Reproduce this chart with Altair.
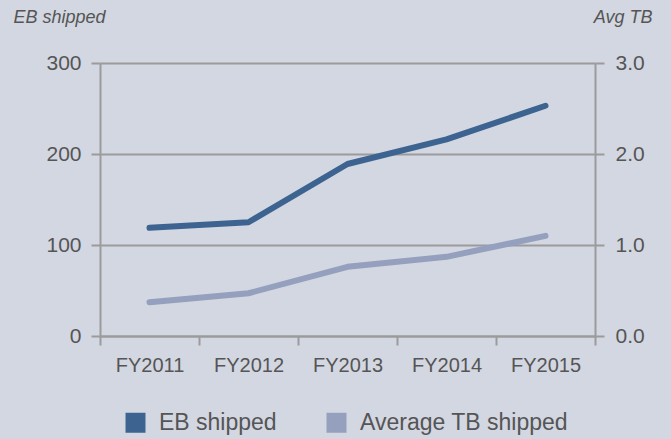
import altair as alt
import pandas as pd

years = ["FY2011", "FY2012", "FY2013", "FY2014", "FY2015"]
eb_shipped = [119, 125, 189, 216, 253]
avg_tb = [0.37, 0.47, 0.76, 0.87, 1.10]
series_names = ["EB shipped", "Average TB shipped"]
series_colors = ["#3d6490", "#94a0bd"]

df = pd.DataFrame({"year": years, "eb": eb_shipped, "tb": avg_tb})

FONT = "Liberation Sans"
TXT = "#555555"
GRAY = "#9b9b9b"
BG = "#d3d7e2"

# page background to match the chart (fills the 8px body margin)
try:
    from altair.utils import html as _h

    class _BgTemplate:
        def __init__(self, t):
            self.t = t

        def render(self, *a, **kw):
            out = self.t.render(*a, **kw)
            style = "<style>html,body{background:%s;overflow:hidden;}</style>" % BG
            if "<head>" in out:
                return out.replace("<head>", "<head>" + style, 1)
            return style + out

    _h.TEMPLATES["standard"] = _BgTemplate(_h.TEMPLATES["standard"])
except Exception:
    pass

x_enc = alt.X(
    "year:N",
    sort=years,
    scale=alt.Scale(type="band", paddingInner=0, paddingOuter=0),
    axis=alt.Axis(
        title=None, tickBand="extent", labelAngle=0, tickSize=9,
        labelPadding=10, grid=False, labelFontSize=20,
    ),
)

color_scale = alt.Scale(domain=series_names, range=series_colors)

eb_layer = alt.Chart(df).transform_calculate(series="'EB shipped'").mark_line(
    strokeWidth=6, strokeCap="round", strokeJoin="round"
).encode(
    x=x_enc,
    y=alt.Y(
        "eb:Q",
        scale=alt.Scale(domain=[0, 300], nice=False),
        axis=alt.Axis(
            values=[0, 100, 200, 300], orient="left", grid=True,
            gridColor=GRAY, gridWidth=2, tickSize=9, labelPadding=10,
            labelFontSize=21,
            title="EB shipped", titleAngle=0, titleAlign="left",
            titleBaseline="alphabetic", titleX=-87, titleY=-41,
            titleFontStyle="italic", titleFontWeight="normal",
            titleFontSize=18, titleColor=TXT, titleFont=FONT,
        ),
    ),
    color=alt.Color(
        "series:N",
        scale=color_scale,
        legend=alt.Legend(
            title=None, orient="none", direction="horizontal",
            legendX=24, legendY=348, symbolType="square", symbolSize=100,
            symbolStrokeWidth=10, symbolOpacity=1, labelFontSize=23,
            labelFont=FONT, labelColor=TXT, labelOffset=12, labelLimit=0,
            columnPadding=34, padding=0,
        ),
    ),
)

tb_layer = alt.Chart(df).transform_calculate(series="'Average TB shipped'").mark_line(
    strokeWidth=6, strokeCap="round", strokeJoin="round"
).encode(
    x=x_enc,
    y=alt.Y(
        "tb:Q",
        scale=alt.Scale(domain=[0, 3], nice=False),
        axis=alt.Axis(
            values=[0, 1, 2, 3], format=".1f", orient="right", grid=False,
            tickSize=9, labelPadding=11, labelFontSize=21,
            title="Avg TB", titleAngle=0, titleAlign="right",
            titleBaseline="alphabetic", titleX=57, titleY=-41,
            titleFontStyle="italic", titleFontWeight="normal",
            titleFontSize=18, titleColor=TXT, titleFont=FONT,
        ),
    ),
    color=alt.Color("series:N", scale=color_scale),
)

chart = alt.layer(eb_layer, tb_layer).resolve_scale(y="independent").properties(
    width=495,
    height=273,
    autosize=alt.AutoSizeParams(type="none"),
    padding={"left": 92, "top": 55, "right": 68, "bottom": 103},
    background=BG,
).configure_view(stroke=None).configure_axis(
    domainColor=GRAY, domainWidth=2, tickColor=GRAY, tickWidth=2,
    labelFont=FONT, labelColor=TXT,
)

chart.save("out.html", embed_options={"renderer": "svg", "actions": False})
